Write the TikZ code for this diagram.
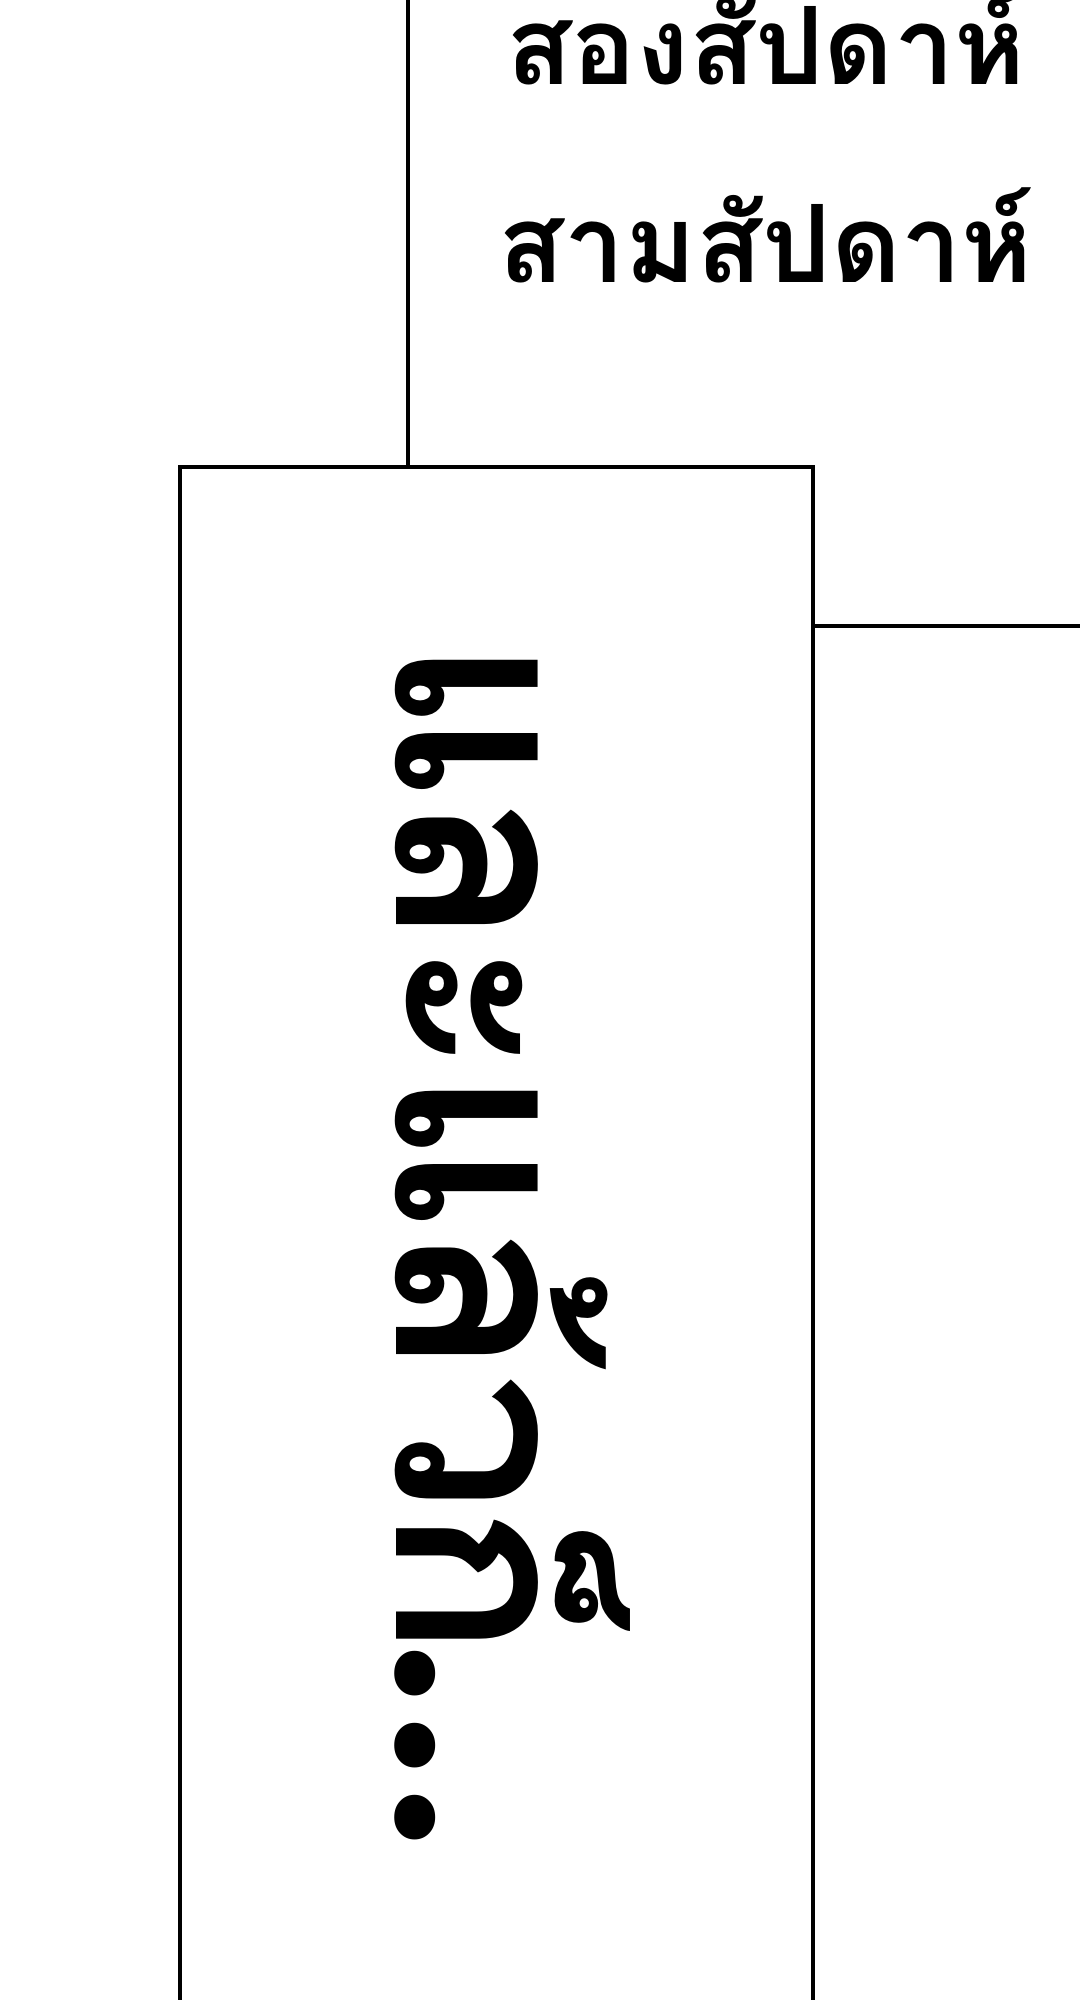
\documentclass[tikz,border=0pt]{standalone}
\usepackage{fontspec}
\newfontfamily\thaifont[Script=Thai]{Loma}
\newfontfamily\thaitight[Script=Thai,LetterSpace=-3]{Loma}
\newfontfamily\dotfont{Poppins}
\begin{document}
\begin{tikzpicture}[x=0.5pt,y=-0.5pt,
  frame/.style={draw=black,line width=1.7pt},
  conn/.style={draw=black,line width=1.7pt},
  lbl/.style={font=\thaifont\bfseries\fontsize{54}{60}\selectfont,inner sep=0pt,anchor=base},
  big/.style={font=\thaitight\bfseries\fontsize{126.5}{127}\selectfont,inner sep=0pt,anchor=base west,rotate=-90}]
\useasboundingbox (0,0) rectangle (1080,2000);
\clip (0,0) rectangle (1080,2000);
\fill[white] (0,0) rectangle (1080,2000);
\node[frame,minimum width=316.5pt,minimum height=771.5pt,inner sep=0pt] (box) at (496.5,1238.5) {};
\node[big] (txt) at (396,638) {และแล้วก็\kern-8pt{\dotfont\bfseries\fontsize{110}{110}\selectfont.\kern5pt.\kern5pt.}};
\node[lbl] (two) at (766,85) {สองสัปดาห์};
\node[lbl] (three) at (766,283) {สามสัปดาห์};
\coordinate (topend) at (408,-5);
\coordinate (rightend) at (1085,626);
\draw[conn] (topend) -- (topend |- box.north);
\draw[conn] (box.east |- rightend) -- (rightend);
\end{tikzpicture}
\end{document}
